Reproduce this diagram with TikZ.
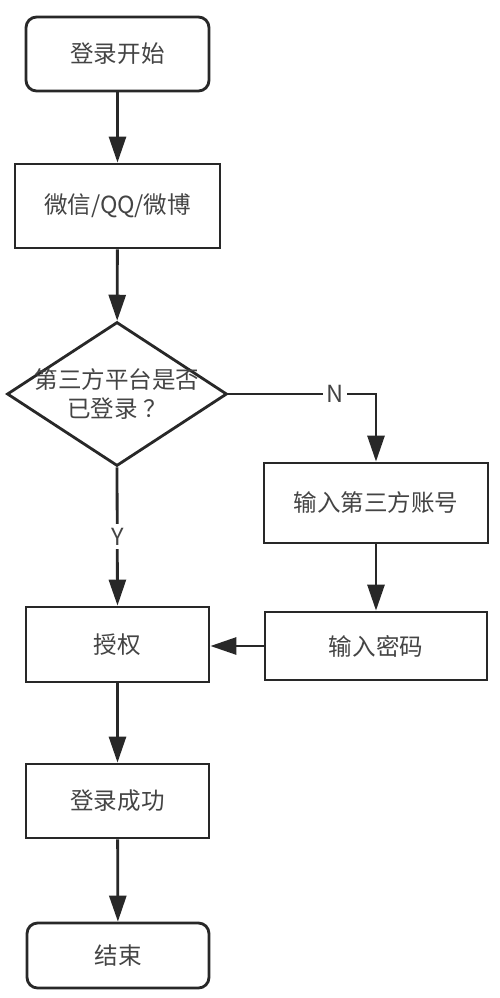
\documentclass[tikz,border=0pt]{standalone}
\usepackage{fontspec}
\setmainfont{Noto Sans CJK SC}
\usetikzlibrary{
    arrows.meta,
    positioning,
    shapes.geometric
}
\definecolor{ink}{RGB}{40,40,40}
\definecolor{muted}{RGB}{68,68,68}
\tikzset{
    line cap=round,
    line join=round,
    flowbox/.style={
        rectangle,
        draw=ink,
        line width=1.6pt,
        fill=white,
        text=muted,
        align=center,
        inner sep=0pt,
        font=\fontsize{13.4}{16}\selectfont
    },
    terminal/.style={flowbox, rounded corners=6pt},
    decision/.style={
        diamond,
        draw=ink,
        line width=1.6pt,
        fill=white,
        inner sep=0pt
    },
    nodetext/.style={
        text=muted,
        align=center,
        font=\fontsize{13.4}{16}\selectfont
    },
    flowarrow/.style={
        -{Triangle[length=0.52cm, width=0.34cm]},
        draw=ink,
        line width=1.6pt
    },
    annotbg/.style={
        nodetext,
        fill=white,
        inner sep=2pt
    }
}
\begin{document}
\begin{tikzpicture}[x=0.02cm, y=-0.02cm]

\useasboundingbox (0, 0) rectangle (500, 998);

% Main column
\node[terminal, minimum width=3.66cm, minimum height=1.48cm] (start) at (117.5, 54) {登录开始};
\node[flowbox, minimum width=4.1cm, minimum height=1.68cm] (platform) at (117.5, 206) {微信/QQ/微博};
\node[decision, minimum width=4.4cm, minimum height=2.88cm] (check) at (117, 394) {};
\node[nodetext] (checktext) at (check.center) {第三方平台是否\\已登录 ？};
\node[flowbox, minimum width=3.66cm, minimum height=1.5cm] (auth) at (117.5, 644.5) {授权};
\node[flowbox, minimum width=3.66cm, minimum height=1.48cm] (success) at (117.5, 801) {登录成功};
\node[terminal, minimum width=3.64cm, minimum height=1.3cm] (finish) at (118, 955.5) {结束};

% Right column
\node[flowbox, minimum width=4.48cm, minimum height=1.6cm] (account) at (376, 503) {输入第三方账号};
\node[flowbox, minimum width=4.44cm, minimum height=1.36cm] (password) at (376, 646) {输入密码};

% Arrows
\draw[flowarrow] (start) -- (platform);
\draw[flowarrow] (platform) -- (check);
\draw[flowarrow] (check.east) -| (account.north)
    node[pos=0.36, annotbg] {N};
\draw[flowarrow] (check.south) -- (auth.north)
    node[midway, annotbg] {Y};
\draw[flowarrow] (account) -- (password);
\draw[flowarrow] (password.west) -- (auth.east |- password.west);
\draw[flowarrow] (auth) -- (success);
\draw[flowarrow] (success) -- (finish);

\end{tikzpicture}
\end{document}
